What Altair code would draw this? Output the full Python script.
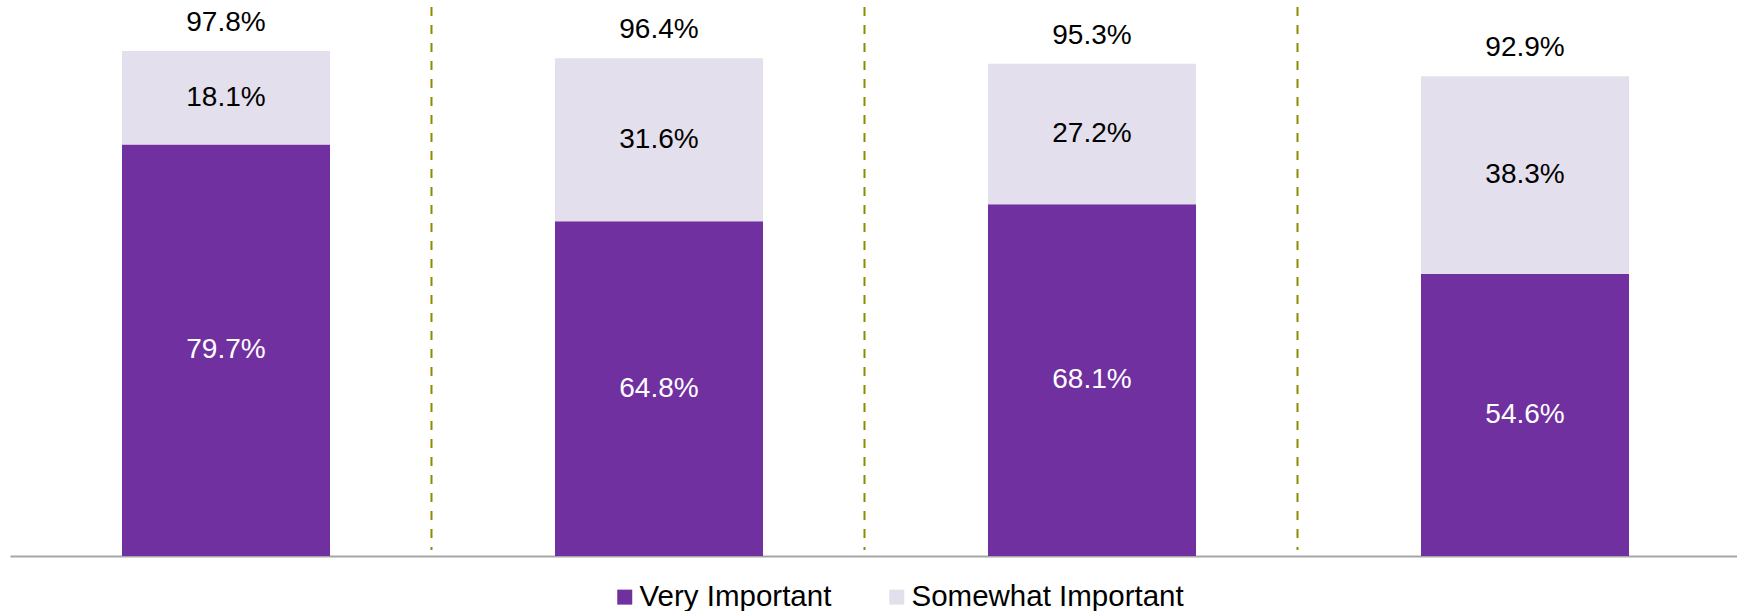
import altair as alt
import pandas as pd

groups = ["Group 1", "Group 2", "Group 3", "Group 4"]
very_important = [79.7, 64.8, 68.1, 54.6]
somewhat_important = [18.1, 31.6, 27.2, 38.3]
totals = [97.8, 96.4, 95.3, 92.9]
series = ["Very Important", "Somewhat Important"]
colors = ["#7030A0", "#E4DFEC"]
separator_after = ["Group 1", "Group 2", "Group 3"]

rows = []
for g, v, s in zip(groups, very_important, somewhat_important):
    rows.append({"group": g, "series": series[0], "order": 0, "value": v,
                 "lo": 0.0, "hi": v, "mid": v / 2, "label": f"{v:.1f}%"})
    rows.append({"group": g, "series": series[1], "order": 1, "value": s,
                 "lo": v, "hi": v + s, "mid": v + s / 2, "label": f"{s:.1f}%"})
df = pd.DataFrame(rows)
df_tot = pd.DataFrame({"group": groups, "total": totals,
                       "label": [f"{t:.1f}%" for t in totals]})
df_sep = pd.DataFrame({"group": separator_after})

FONT = "Liberation Sans"
W, H = 1727, 550
SHIFT = 2
yscale = alt.Scale(domain=[0, 106.5], nice=False, zero=True)
xscale = alt.Scale(domain=groups, paddingInner=0.5196, paddingOuter=0.254)

x_enc = alt.X("group:N", scale=xscale, sort=groups,
              axis=alt.Axis(title=None, labels=False, ticks=False, grid=False,
                            domain=True, domainColor="#A6A6A6", domainWidth=2))

bars = alt.Chart(df).mark_bar(xOffset=SHIFT).encode(
    x=x_enc,
    y=alt.Y("lo:Q", scale=yscale, axis=None),
    y2="hi:Q",
    color=alt.Color("series:N", scale=alt.Scale(domain=series, range=colors),
                    sort=series,
                    legend=alt.Legend(title=None, orient="none", direction="horizontal",
                                      legendX=600, legendY=576, padding=0,
                                      symbolType="square", symbolSize=225,
                                      symbolStrokeWidth=0, labelFont=FONT,
                                      labelFontSize=29.5, labelColor="#000000",
                                      labelLimit=0, labelOffset=0,
                                      columnPadding=50)),
    order="order:Q",
)

seg_text = alt.Chart(df).mark_text(font=FONT, fontSize=28, baseline="middle",
                                   align="center", dx=SHIFT).encode(
    x=alt.X("group:N", scale=xscale, sort=groups),
    y=alt.Y("mid:Q", scale=yscale, axis=None),
    text="label:N",
    color=alt.Color("series:N", scale=alt.Scale(domain=series, range=["#FFFFFF", "#000000"]),
                    legend=None),
)

tot_text = alt.Chart(df_tot).mark_text(font=FONT, fontSize=28, baseline="middle",
                                       align="center", dy=-28, dx=SHIFT,
                                       color="#000000").encode(
    x=alt.X("group:N", scale=xscale, sort=groups),
    y=alt.Y("total:Q", scale=yscale, axis=None),
    text="label:N",
)

# separators sit between groups (half a step right of the group centre, nudged left)
sep = alt.Chart(df_sep).mark_rule(color="#8C8C00", strokeWidth=2,
                                  strokeDash=[9, 9], xOffset=207.5).encode(
    x=alt.X("group:N", scale=xscale, sort=groups),
    y=alt.value(1),
    y2=alt.value(544),
)

chart = alt.layer(bars, seg_text, tot_text, sep).resolve_scale(
    color="independent"
).properties(
    width=W, height=H,
    background="#FFFFFF",
    autosize=alt.AutoSizeParams(type="none"),
    padding={"left": 10, "top": 6, "right": 0, "bottom": 55},
).configure_view(stroke=None, strokeWidth=0).configure_axisY(
    domain=False, ticks=False, labels=False, grid=False, title=None
)

chart.save("out.html", embed_options={"renderer": "svg", "actions": False})
